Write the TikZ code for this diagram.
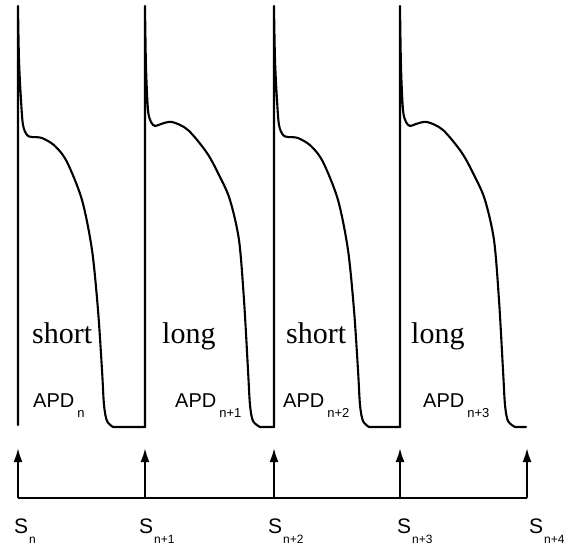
\documentclass[tikz,border=0pt]{standalone}
\usepackage{fontspec}
\setmainfont{Liberation Serif}
\newfontfamily\arialf{Liberation Sans}
\usetikzlibrary{arrows.meta}
\tikzset{
  trace/.style={line width=2.1pt, line join=round, line cap=round},
  stim/.style={line width=2.1pt, -{Latex[length=14pt,width=9pt]}},
  base/.style={line width=2.1pt, line cap=butt},
  word/.style={anchor=base west, inner sep=0pt, font=\fontsize{30}{30}\selectfont},
  apd/.style={anchor=base west, inner sep=0pt, font=\arialf\fontsize{20}{20}\selectfont},
  slab/.style={anchor=base west, inner sep=0pt, font=\arialf\fontsize{21}{21}\selectfont}
}
\newcommand\subA[1]{\kern3pt\raisebox{-10pt}{\fontsize{13}{13}\selectfont #1}}
\newcommand\subS[1]{\kern1pt\raisebox{-10pt}{\fontsize{12}{12}\selectfont #1}}
\newcommand\shortAP[3]{\draw[trace] (#1,#3) -- plot[smooth] coordinates {
  (#1,6) ({#1+1},60) ({#1+3},100) ({#1+5},125) ({#1+9},135) ({#1+14},137)
  ({#1+24},138) ({#1+37},146) ({#1+49},162) ({#1+64},200) ({#1+74},250)
  ({#1+80},310) ({#1+84},370) ({#1+86},405) ({#1+89},421)
  ({#1+95},427)} -- (#2,427);}
\newcommand\longAP[3]{\draw[trace] (#1,#3) -- plot[smooth] coordinates {
  (#1,6) ({#1+1},67) ({#1+3},110) ({#1+6},122) ({#1+10},126) ({#1+16},124)
  ({#1+27},122) ({#1+43},130) ({#1+62},153) ({#1+75},177) ({#1+85},200)
  ({#1+94},240) ({#1+99},300) ({#1+103},370) ({#1+105},405) ({#1+108},421)
  ({#1+115},427)} -- (#2,427);}
\begin{document}
\begin{tikzpicture}[x=1pt,y=-1pt]
\useasboundingbox (0,0) rectangle (565,550);
% action potentials
\shortAP{18}{145}{425}
\longAP{145}{274}{427}
\shortAP{274}{400}{427}
\longAP{400}{526}{427}
% stimulus train
\foreach \i/\x in {0/18,1/145,2/274,3/400,4/527}{
  \coordinate (s\i) at (\x,498);
  \coordinate (a\i) at (\x,448);
}
\draw[base] (s0) -- (s4);
\foreach \i in {0,...,4}{\draw[stim] (s\i) -- (a\i);}
% labels
\node[word] (w1) at (32,343) {short};
\node[word] (w2) at (162,343) {long};
\node[word] (w3) at (286,343) {short};
\node[word] (w4) at (411,343) {long};
\node[apd] (p1) at (33,407) {APD\subA{n}};
\node[apd] (p2) at (175,407) {APD\subA{n+1}};
\node[apd] (p3) at (283,407) {APD\subA{n+2}};
\node[apd] (p4) at (423,407) {APD\subA{n+3}};
\node[slab] (l0) at (14,533) {S\subS{n}};
\node[slab] (l1) at (139,533) {S\subS{n+1}};
\node[slab] (l2) at (268,533) {S\subS{n+2}};
\node[slab] (l3) at (397,533) {S\subS{n+3}};
\node[slab] (l4) at (529,533) {S\subS{n+4}};
\end{tikzpicture}
\end{document}
